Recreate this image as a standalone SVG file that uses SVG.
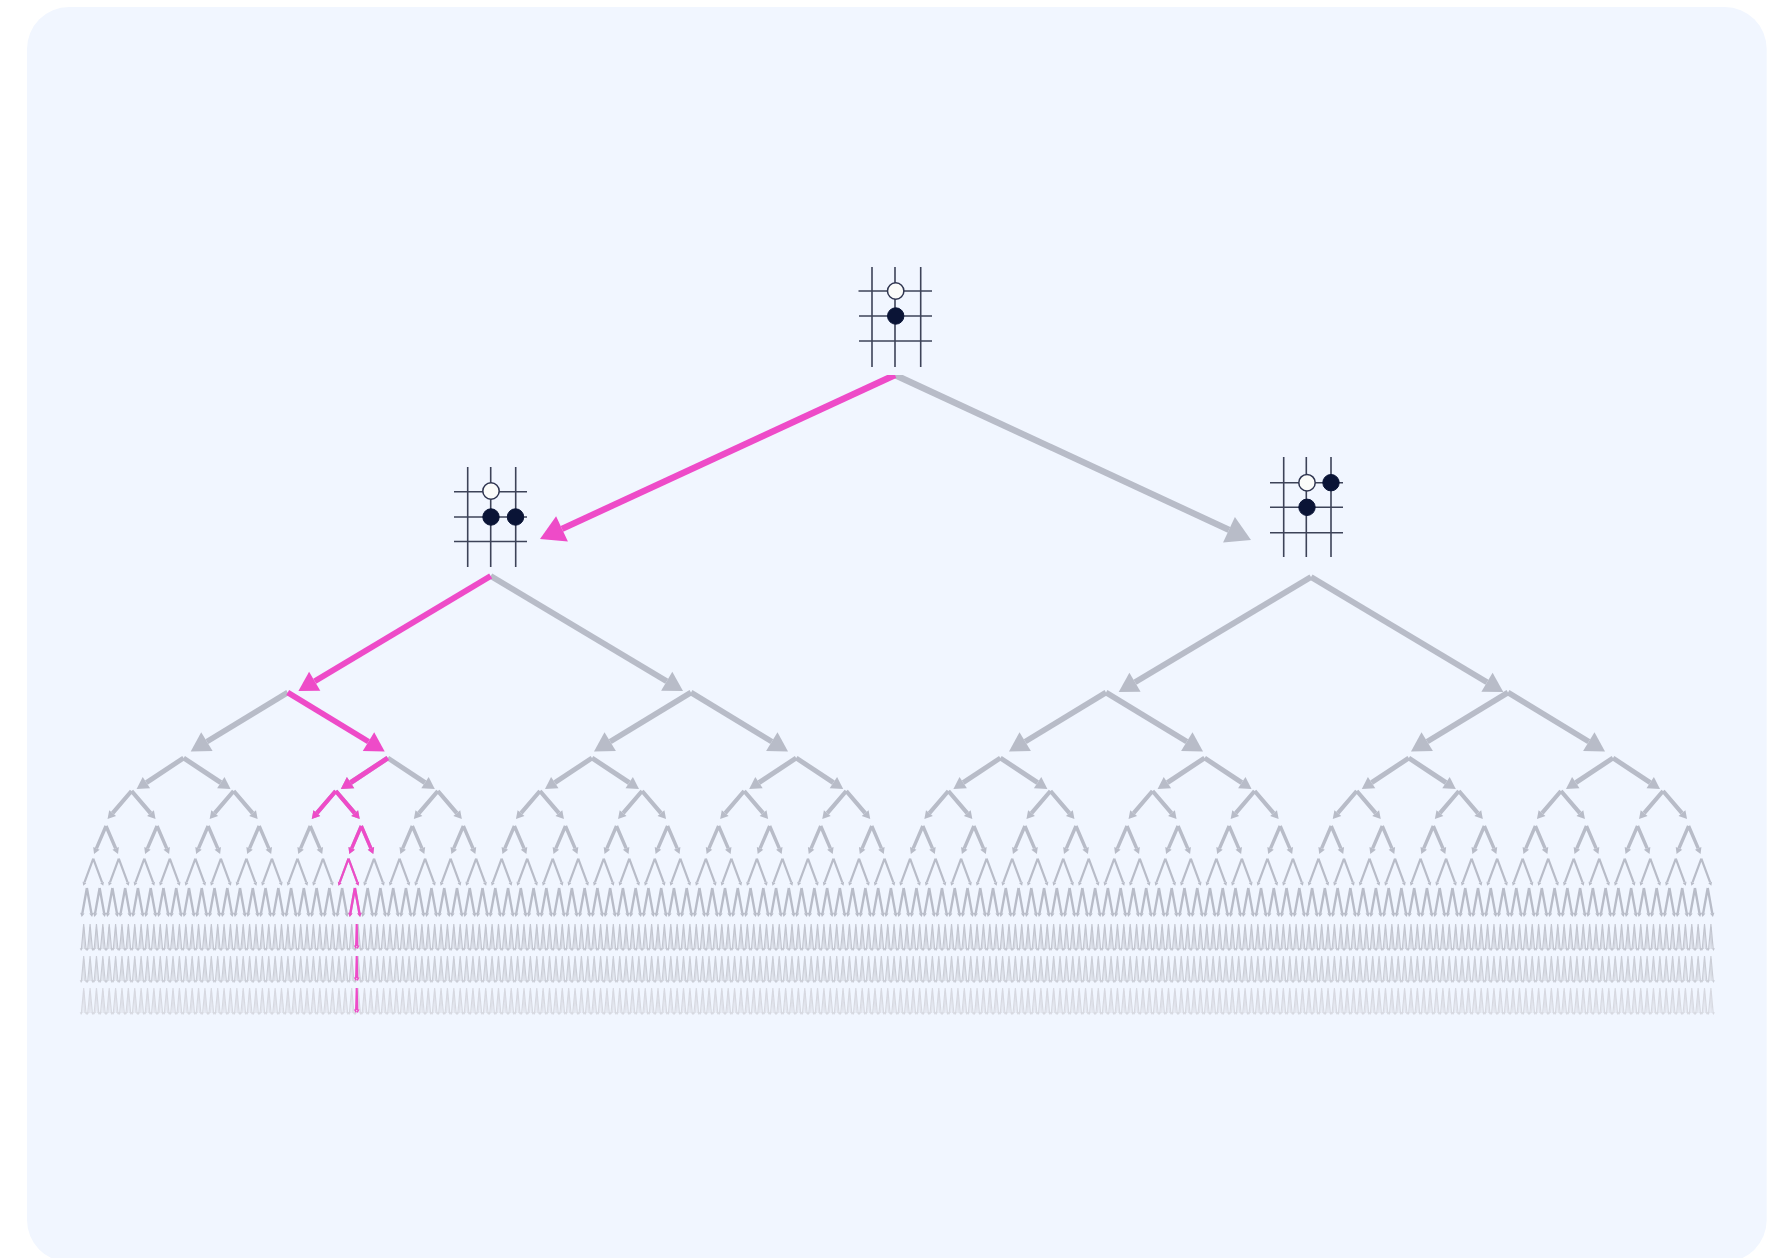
<svg xmlns="http://www.w3.org/2000/svg" width="1791" height="1258" viewBox="0 0 1791 1258">
<style>
.s{fill:none;stroke:currentColor;stroke-linecap:butt}
.h{fill:currentColor;stroke:none}
.grid line{stroke:#3d4358;stroke-width:1.6}
.w{fill:#fbfcfa;stroke:#2f3550;stroke-width:1.5}
.b{fill:#0a1436;stroke:#0a1436;stroke-width:1}
.gy{color:#b8bcc8}
.pk{color:#ee4bc8}
</style>
<defs>
<filter id="soft" x="0" y="0" width="1" height="1"><feGaussianBlur stdDeviation="0.45"/></filter>
<g id="e0r"><path class="s" stroke-width="6.4" d="M0 0L334 154.8"/><path class="h" d="M356 165L328.1 167.5L339.9 142.1Z"/></g>
<g id="e0l"><path class="s" stroke-width="6.4" d="M0 0L-333 153.9"/><path class="h" d="M-355 164L-327.1 166.6L-338.9 141.2Z"/></g>
<g id="e1r"><path class="s" stroke-width="6" d="M0 0L176 105.25"/><path class="h" d="M192.3 115L170.4 114.7L181.6 95.8Z"/></g>
<use id="e1l" href="#e1r" transform="scale(-1 1)"/>
<g id="e2r"><path class="s" stroke-width="5.6" d="M0 0L80.8 49.1"/><path class="h" d="M97 59L75.1 58.5L86.5 39.7Z"/></g>
<use id="e2l" href="#e2r" transform="scale(-1 1)"/>
<g id="e3r"><path class="s" stroke-width="5" d="M0 0L37.2 24.55"/><path class="h" d="M47 31L33.5 30.2L40.9 18.9Z"/></g>
<use id="e3l" href="#e3r" transform="scale(-1 1)"/>
<g id="c4"><path class="s" stroke-width="4.2" d="M0 0L18.93 22.08M0 0L-18.93 22.08"/><path class="h" d="M24 28L15.5 25L22.35 19.15ZM-24 28L-15.5 25L-22.35 19.15Z"/></g>
<g id="c5"><path class="s" stroke-width="3.4" d="M0 0L9.61 22.43M0 0L-9.61 22.43"/><path class="h" d="M12 28L6.39 23.81L12.83 21.05ZM-12 28L-6.39 23.81L-12.83 21.05Z"/></g>
<g id="c6"><path class="s" stroke-width="2.2" d="M0 0L8.8 23.75M0 0L-8.8 23.75"/><path class="h" d="M10 27L6.92 24.44L10.68 23.06ZM-10 27L-6.92 24.44L-10.68 23.06Z"/></g>
<g id="c7"><path class="s" stroke-width="2.4" d="M0 0L4.51 25.16M0 0L-4.51 25.16"/><path class="h" d="M5.2 29L2.3 25.56L6.72 24.76ZM-5.2 29L-2.3 25.56L-6.72 24.76Z"/></g>
<g id="c8"><path class="s" stroke-width="1.15" d="M0 0L2.3 25M0 0L-2.3 25"/><path class="s" stroke-width=".7" d="M0 3L.9 25M0 3L-.9 25"/><path class="h" d="M2.6 27L1.1 24.5L4 24.2ZM-2.6 27L-1.1 24.5L-4 24.2Z"/></g>
<g id="cp"><path class="s" stroke-width="2.1" d="M0 0L.6 22M0 0L-.6 22"/><path class="h" d="M.9 25L-1.1 21.6L2.9 21.6ZM-.9 25L1.1 21.6L-2.9 21.6Z"/></g>
<g id="t10" color="#d7d9e1"><use href="#c8"/></g>
<g id="t9"><use href="#c8" color="#cbced7"/><use href="#t10" y="32"/></g>
<g id="t8"><use href="#c8" color="#c3c6d0"/><use href="#t9" y="32"/></g>
<g id="t7"><use href="#c7" color="#b8bcc8"/><use href="#t8" x="-3.19" y="36"/><use href="#t8" x="3.19" y="36"/></g>
<g id="t6"><use href="#c6" color="#b8bcc8"/><use href="#t7" x="-6.38" y="29.3"/><use href="#t7" x="6.38" y="29.3"/></g>
<g id="t5"><use href="#c5" color="#b8bcc8"/><use href="#t6" x="-12.76" y="32.7"/><use href="#t6" x="12.76" y="32.7"/></g>
<g id="t4"><use href="#c4" color="#b8bcc8"/><use href="#t5" x="-25.525" y="35"/><use href="#t5" x="25.525" y="35"/></g>
<g id="t3"><g transform="translate(1 0)" color="#b8bcc8"><use href="#e3l"/><use href="#e3r"/></g><use href="#t4" x="-51.05" y="33"/><use href="#t4" x="51.05" y="33"/></g>
</defs>
<rect width="1791" height="1258" fill="#ffffff"/>
<rect x="27" y="7" width="1739.7" height="1255" rx="42" fill="#f1f6ff"/>
<g id="connectors" filter="url(#soft)">
<g class="gy">
<use href="#e0r" x="895" y="375"/>
<use href="#e1r" x="490.7" y="576"/>
<use href="#e1l" transform="translate(1311 577)"/>
<use href="#e1r" x="1311" y="577"/>
<use href="#e2l" transform="translate(287.7 692.5)"/>
<use href="#e2l" transform="translate(691 692.5)"/>
<use href="#e2r" x="691" y="692.5"/>
<use href="#e2l" transform="translate(1106 692.5)"/>
<use href="#e2r" x="1106" y="692.5"/>
<use href="#e2l" transform="translate(1508 692.5)"/>
<use href="#e2r" x="1508" y="692.5"/>
</g>
<use href="#t3" x="182.6" y="758"/><use href="#t3" x="386.8" y="758"/><use href="#t3" x="591" y="758"/><use href="#t3" x="795.2" y="758"/>
<use href="#t3" x="999.4" y="758"/><use href="#t3" x="1203.6" y="758"/><use href="#t3" x="1407.8" y="758"/><use href="#t3" x="1612" y="758"/>
<g class="pk">
<use href="#e0l" x="895" y="375"/>
<use href="#e1l" transform="translate(490.7 576)"/>
<use href="#e2r" x="287.7" y="692.5"/>
<use href="#e3l" transform="translate(387.8 758)"/>
<use href="#c4" x="335.75" y="791"/>
<use href="#c5" x="361.3" y="826"/>
<use href="#c6" x="348.5" y="858.7"/>
<use href="#c7" x="354.9" y="888"/>
<use href="#cp" x="356.7" y="924"/>
<use href="#cp" x="356.7" y="956"/>
<use href="#cp" x="356.7" y="988"/>
</g>
</g>
<g id="node-root">
<g class="grid"><line x1="872" y1="267" x2="872" y2="367"/><line x1="895" y1="267" x2="895" y2="367"/><line x1="920.7" y1="267" x2="920.7" y2="367"/><line x1="858.5" y1="291" x2="932" y2="291"/><line x1="859" y1="316" x2="932" y2="316"/><line x1="859" y1="341" x2="932" y2="341"/></g>
<circle class="w" cx="895.7" cy="291" r="8.2"/><circle class="b" cx="895.7" cy="316" r="8.2"/>
</g>
<g id="node-left">
<g class="grid"><line x1="467.7" y1="467" x2="467.7" y2="567"/><line x1="490.7" y1="467" x2="490.7" y2="567"/><line x1="515.7" y1="467" x2="515.7" y2="567"/><line x1="454" y1="491.7" x2="527" y2="491.7"/><line x1="454" y1="517" x2="527" y2="517"/><line x1="454" y1="541.5" x2="527" y2="541.5"/></g>
<circle class="w" cx="491" cy="491" r="8.2"/><circle class="b" cx="491" cy="517" r="8.2"/><circle class="b" cx="515.5" cy="517" r="8.2"/>
</g>
<g id="node-right">
<g class="grid"><line x1="1283.7" y1="457" x2="1283.7" y2="557"/><line x1="1306.3" y1="457" x2="1306.3" y2="557"/><line x1="1331" y1="457" x2="1331" y2="557"/><line x1="1270" y1="482.7" x2="1343" y2="482.7"/><line x1="1270" y1="507.3" x2="1343" y2="507.3"/><line x1="1270" y1="532.7" x2="1343" y2="532.7"/></g>
<circle class="w" cx="1307" cy="482.7" r="8.2"/><circle class="b" cx="1331" cy="482.7" r="8.2"/><circle class="b" cx="1307" cy="507.3" r="8.2"/>
</g>
</svg>
